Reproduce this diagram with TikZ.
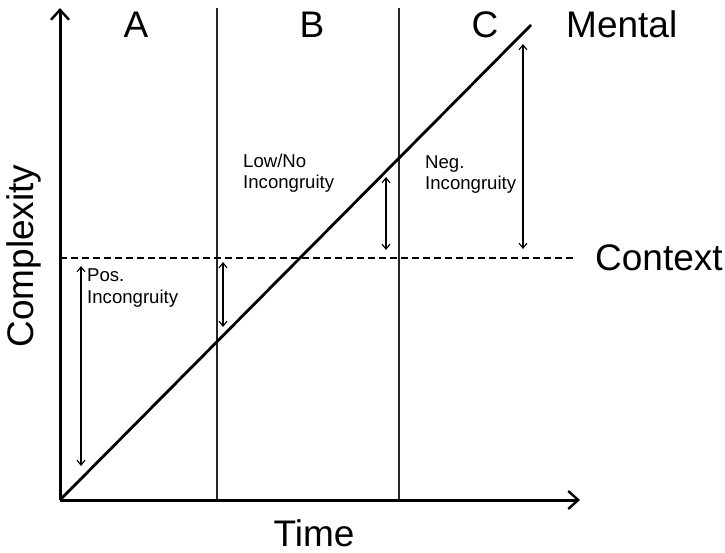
\documentclass[tikz,border=0pt]{standalone}
\usepackage{fontspec}
\setmainfont{Liberation Sans}
\usetikzlibrary{arrows.meta}
\begin{document}
\begin{tikzpicture}[x=1pt,y=-1pt,
  axis/.style={line width=3pt,-{Straight Barb[length=10pt,width=18pt,line width=2.4pt]}},
  region/.style={line width=1.5pt,draw=black!85},
  mental/.style={line width=2.8pt},
  context/.style={line width=2.2pt,dash pattern=on 7pt off 4pt},
  gap/.style={line width=1.1pt,{Straight Barb[length=5pt,width=8pt]}-{Straight Barb[length=5pt,width=8pt]}},
  big/.style={inner sep=0pt,font=\fontsize{37}{40}\selectfont},
  small/.style={inner sep=0pt,align=left,font=\fontsize{18.6}{21.5}\selectfont}]
\useasboundingbox (0,0) rectangle (725,553);
% coordinates
\coordinate (O) at (60,500);
\coordinate (ytip) at (60,8);
\coordinate (xtip) at (580,500);
\coordinate (v1t) at (217,8);
\coordinate (v1b) at (217,500);
\coordinate (v2t) at (399,8);
\coordinate (v2b) at (399,500);
\coordinate (mend) at (531,25);
\coordinate (cl) at (60,258);
\coordinate (cr) at (573,258);
\coordinate (a1t) at (81,266);
\coordinate (a1b) at (81,466);
\coordinate (a2t) at (223,262);
\coordinate (a2b) at (223,327);
\coordinate (a3t) at (386,177);
\coordinate (a3b) at (386,250);
\coordinate (a4t) at (523,44);
\coordinate (a4b) at (523,249);
% region lines
\draw[region] (v1t) -- (v1b);
\draw[region] (v2t) -- (v2b);
% context
\draw[context] (cl) -- (cr);
% mental
\draw[mental] (O) -- (mend);
% axes
\draw[axis] (O) -- (ytip);
\draw[axis] (O) -- (xtip);
% gaps
\draw[gap] (a1t) -- (a1b);
\draw[gap] (a2t) -- (a2b);
\draw[gap] (a3t) -- (a3b);
\draw[gap] (a4t) -- (a4b);
% labels
\node[big,anchor=base] (lA) at (136,38) {A};
\node[big,anchor=base] (lB) at (312,38) {B};
\node[big,anchor=base] (lC) at (485,38) {C};
\node[big,anchor=base west] (lM) at (566,38) {Mental};
\node[big,anchor=base west] (lCx) at (595,271) {Context};
\node[big,anchor=base] (lT) at (314,546) {Time};
\node[big,anchor=base,rotate=90] (lY) at (33,256) {Complexity};
\node[small,anchor=base west] (pos) at (87,303) {Pos.\\Incongruity};
\node[small,anchor=base west] (low) at (243,189) {Low/No\\Incongruity};
\node[small,anchor=base west] (neg) at (425,190) {Neg.\\Incongruity};
\end{tikzpicture}
\end{document}
